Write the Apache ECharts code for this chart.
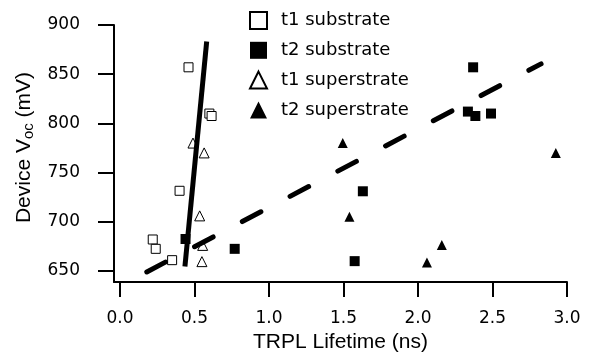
<!DOCTYPE html>
<html>
<head>
<meta charset="utf-8">
<script src="https://cdn.jsdelivr.net/npm/echarts@6/dist/echarts.min.js"></script>
<style>html,body{margin:0;padding:0;background:#fff}#c{width:610px;height:362px}</style>
</head>
<body>
<div id="c"></div>
<script>
// ---- data ----
const t1Substrate = [[0.46,857],[0.60,810],[0.615,807.5],[0.40,731.5],[0.22,682],[0.24,672.5],[0.35,661]];
const t2Substrate = [[2.37,857],[2.335,812],[2.385,807.5],[2.49,810],[1.63,731],[1.575,660],[0.77,672.5],[0.44,682.5]];
const t1Superstrate = [[0.49,780],[0.565,770],[0.535,706],[0.555,676],[0.55,659.5]];
const t2Superstrate = [[1.495,780],[1.54,705],[2.925,770],[2.16,676.5],[2.06,658.5]];
const t1Fit = [[0.436,654.6],[0.582,883.2]];
const t2Fit = [[0.18,649],[2.826,860.5]];
const xTicks = [0,0.5,1.0,1.5,2.0,2.5,3.0];
const yTicks = [650,700,750,800,850,900];
const seriesNames = ['t1 substrate','t2 substrate','t1 superstrate','t2 superstrate'];

const chart = echarts.init(document.getElementById('c'), null, {renderer:'canvas'});
const tickFont = {fontFamily:'DejaVu Sans', fontSize:17, color:'#000'};
const scatterBase = {type:'scatter', symbolSize:10, z:2, animation:false};
chart.setOption({
  animation:false,
  backgroundColor:'#fff',
  grid:{left:114, right:43, top:25, bottom:80, containLabel:false},
  legend:{
    orient:'vertical', left:244, top:6, padding:5, itemWidth:17, itemHeight:17, itemGap:11.3,
    textStyle:{fontFamily:'DejaVu Sans', fontSize:18, color:'#000', lineHeight:18, padding:[0,0,0,9]},
    data:seriesNames
  },
  xAxis:{
    type:'value', min:-0.04, max:3.0,
    name:'TRPL Lifetime (ns)', nameLocation:'middle', nameGap:50,
    nameTextStyle:{fontFamily:'Liberation Sans', fontSize:21, color:'#000'},
    axisLine:{show:true, onZero:false, lineStyle:{color:'#000', width:2}},
    axisTick:{show:true, inside:false, length:15, lineStyle:{color:'#000', width:2}, customValues:xTicks},
    axisLabel:Object.assign({margin:28, customValues:xTicks, formatter:v=>Number(v).toFixed(1)}, tickFont),
    splitLine:{show:false}
  },
  yAxis:{
    type:'value', min:638.8, max:900,
    name:'{a|Device V}{s|oc}{a| (mV)}', nameLocation:'middle', nameGap:75,
    nameTextStyle:{
      color:'#000', padding:[0,0,0,12],
      rich:{
        a:{fontFamily:'Liberation Sans', fontSize:21, lineHeight:25, color:'#000'},
        s:{fontFamily:'Liberation Sans', fontSize:15, lineHeight:25, verticalAlign:'bottom', color:'#000'}
      }
    },
    axisLine:{show:true, onZero:false, lineStyle:{color:'#000', width:2}},
    axisTick:{show:true, inside:false, length:16, lineStyle:{color:'#000', width:2}, customValues:yTicks},
    axisLabel:Object.assign({margin:34, customValues:yTicks}, tickFont),
    splitLine:{show:false}
  },
  series:[
    Object.assign({}, scatterBase, {name:seriesNames[0], data:t1Substrate, symbol:'rect', symbolSize:9,
      itemStyle:{color:'#fff', borderColor:'#000', borderWidth:1, opacity:1}}),
    Object.assign({}, scatterBase, {name:seriesNames[1], data:t2Substrate, symbol:'rect',
      itemStyle:{color:'#000', opacity:1}}),
    Object.assign({}, scatterBase, {name:seriesNames[2], data:t1Superstrate, symbol:'triangle', symbolSize:[10,10],
      itemStyle:{color:'#fff', borderColor:'#000', borderWidth:1, opacity:1}}),
    Object.assign({}, scatterBase, {name:seriesNames[3], data:t2Superstrate, symbol:'triangle', symbolSize:[10,10],
      itemStyle:{color:'#000', opacity:1}}),
    {type:'line', data:t1Fit, showSymbol:false, symbol:'none', z:3, silent:true, animation:false,
      lineStyle:{color:'#000', width:5, cap:'butt'}},
    {type:'line', data:t2Fit, showSymbol:false, symbol:'none', z:3, silent:true, animation:false,
      lineStyle:{color:'#000', width:5, type:[21,33], cap:'round'}}
  ]
});
</script>
</body>
</html>
